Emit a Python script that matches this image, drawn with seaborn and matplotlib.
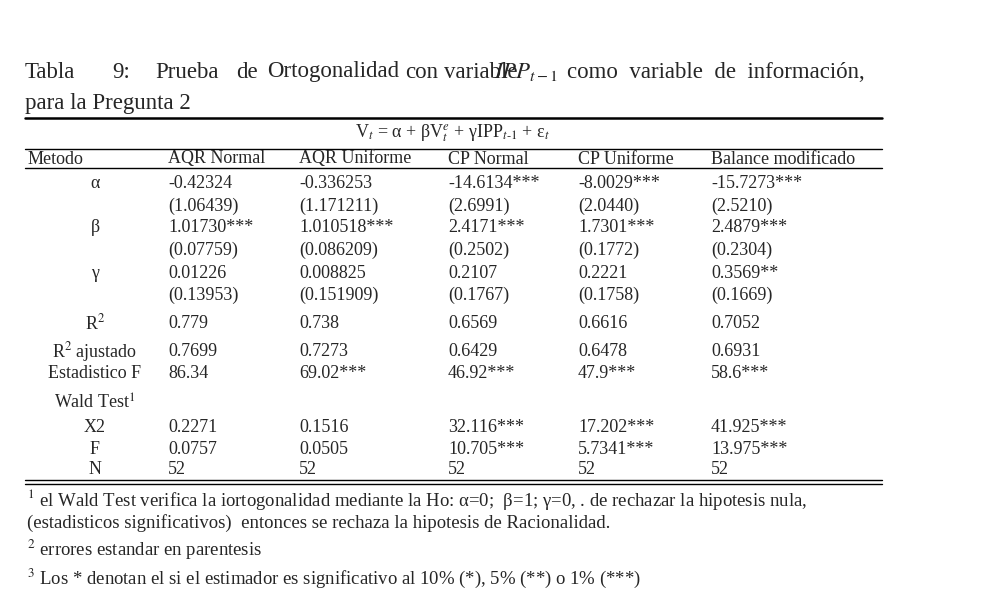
import matplotlib
matplotlib.use("Agg")
import matplotlib.pyplot as plt
import seaborn as sns

sns.set_style("white")
plt.rcParams['font.family'] = ['Liberation Serif', 'DejaVu Serif']
plt.rcParams['mathtext.fontset'] = 'stix'

columns = ["Metodo", "AQR Normal", "AQR Uniforme", "CP Normal", "CP Uniforme", "Balance modificado"]
row_labels = ["α", "", "β", "", "γ", "", "R$^2$", "R$^2$ ajustado", "Estadistico F", "Wald Test$^1$", "X2", "F", "N"]
aqr_normal = ["-0.42324", "(1.06439)", "1.01730***", "(0.07759)", "0.01226", "(0.13953)", "0.779", "0.7699", "86.34", "", "0.2271", "0.0757", "52"]
aqr_uniforme = ["-0.336253", "(1.171211)", "1.010518***", "(0.086209)", "0.008825", "(0.151909)", "0.738", "0.7273", "69.02***", "", "0.1516", "0.0505", "52"]
cp_normal = ["-14.6134***", "(2.6991)", "2.4171***", "(0.2502)", "0.2107", "(0.1767)", "0.6569", "0.6429", "46.92***", "", "32.116***", "10.705***", "52"]
cp_uniforme = ["-8.0029***", "(2.0440)", "1.7301***", "(0.1772)", "0.2221", "(0.1758)", "0.6616", "0.6478", "47.9***", "", "17.202***", "5.7341***", "52"]
balance = ["-15.7273***", "(2.5210)", "2.4879***", "(0.2304)", "0.3569**", "(0.1669)", "0.7052", "0.6931", "58.6***", "", "41.925***", "13.975***", "52"]
row_y = [183, 206, 228, 250, 273, 295, 323, 352, 374, 403, 428, 449, 469]
footnotes = [
    "$^1$ el Wald Test verifica la iortogonalidad mediante la Ho: α=0;  β=1; γ=0, . de rechazar la hipotesis nula,",
    "(estadisticos significativos)  entonces se rechaza la hipotesis de Racionalidad.",
    "$^2$ errores estandar en parentesis",
    "$^3$ Los * denotan el si el estimador es significativo al 10% (*), 5% (**) o 1% (***)",
]
foot_y = [500, 523, 550, 578]

fig = plt.figure(figsize=(10.03, 6.15), dpi=100)
ax = fig.add_axes([0, 0, 1, 1])
ax.set_xlim(0, 1003)
ax.set_ylim(615, 0)
ax.axis("off")

fs = 13
# justified title line
title_words = ["Tabla", "9:", "Prueba", "de", "Ortogonalidad", "con", "variable"]
title_x = [25, 112, 155, 236, 267, 405, 444]
for x, w in zip(title_x, title_words):
    ax.text(x, 72, w, fontsize=16.5, va="center")
ax.text(494, 72, "$IPP_{t-1}$", fontsize=16.5, va="center")
ax.text(865, 72, "como  variable  de  información,", fontsize=16.5, va="center", ha="right")
ax.text(25, 103, "para la Pregunta 2", fontsize=16.5, va="center")

x0, x1 = 25, 882
ax.plot([x0, x1], [118, 118], color="black", lw=1.8)
ax.text(453, 133, r"V$_t$ = α + βV$_t^e$ + γIPP$_{t\text{-}1}$ + ε$_t$", fontsize=fs, ha="center", va="center")
ax.plot([x0, x1], [149, 149], color="black", lw=1)
ax.plot([x0, x1], [168, 168], color="black", lw=1)

col_x = [28, 168, 299, 448, 578, 711]
for x, c in zip(col_x, columns):
    ax.text(x, 159, c, fontsize=fs, va="center")

for i, y in enumerate(row_y):
    ax.text(95, y, row_labels[i], fontsize=fs, ha="center", va="center")
    for x, vals in zip(col_x[1:], [aqr_normal, aqr_uniforme, cp_normal, cp_uniforme, balance]):
        ax.text(x, y, vals[i], fontsize=fs, va="center")

ax.plot([x0, x1], [480, 480], color="black", lw=1)
ax.plot([x0, x1], [484, 484], color="black", lw=1)

for y, t in zip(foot_y, footnotes):
    ax.text(27, y, t, fontsize=13.5, va="center")

fig.savefig("out.png", dpi=100)
